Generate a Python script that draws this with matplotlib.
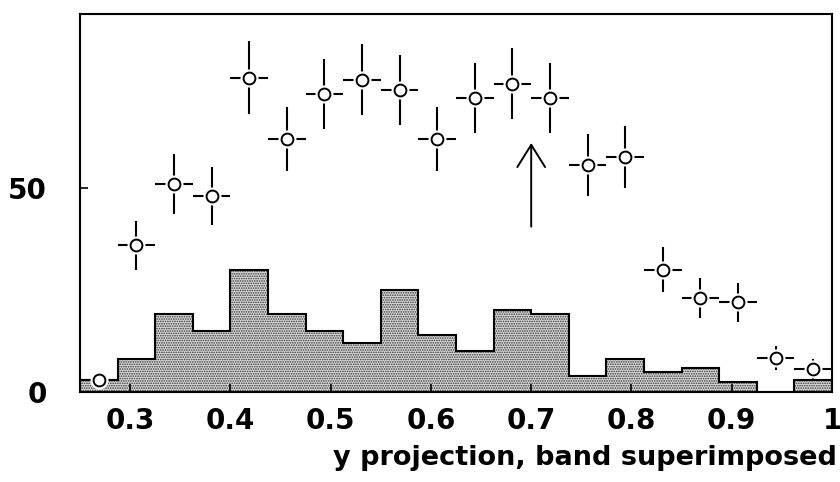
import matplotlib
matplotlib.use("Agg")
import matplotlib.pyplot as plt
import numpy as np

# ---- data ----
bin_edges = np.linspace(0.25, 1.0, 21)
band_counts = [3, 8, 19, 15, 30, 19, 15, 12, 25, 14, 10, 20, 19, 4, 8, 5, 6, 2.5, 0, 3]
point_x = [0.26875, 0.30625, 0.34375, 0.38125, 0.41875, 0.45625, 0.49375, 0.53125,
           0.56875, 0.60625, 0.64375, 0.68125, 0.71875, 0.75625, 0.79375, 0.83125,
           0.86875, 0.90625, 0.94375, 0.98125]
point_y = [3, 36, 51, 48, 77, 62, 73, 76.5, 74, 62, 72, 75.5, 72, 55.5, 57.5, 30,
           23, 22, 8.4, 5.6]
point_yerr = [1.7, 6.0, 7.4, 7.2, 8.9, 7.9, 8.5, 8.7, 8.6, 7.8, 8.5, 8.7, 8.5, 7.6,
              7.6, 5.6, 4.9, 4.8, 2.9, 2.4]
point_xerr = 0.01875
xtick_vals = [0.3, 0.4, 0.5, 0.6, 0.7, 0.8, 0.9, 1.0]
xtick_labels = ["0.3", "0.4", "0.5", "0.6", "0.7", "0.8", "0.9", "1"]
ytick_vals = [0, 50]
ytick_labels = ["0", "50"]
arrow_x = 0.7
arrow_y = (40.5, 61)
xlabel = "y projection, band superimposed"

plt.rcParams['hatch.linewidth'] = 0.8

fig = plt.figure(figsize=(8.4, 4.82), dpi=100)
ax = fig.add_axes([80/840, 1 - 392/482, 752/840, 378/482])

# histogram band
ax.stairs(band_counts, bin_edges, baseline=0, fill=True, facecolor='#d9d9d9',
          edgecolor='#333333', linewidth=0, hatch='.......', zorder=1)
ax.stairs(band_counts, bin_edges, baseline=0, fill=False, color='black',
          linewidth=1.5, zorder=2)

# data points with error bars
ax.errorbar(point_x, point_y, yerr=point_yerr, xerr=point_xerr, fmt='none',
            ecolor='black', elinewidth=1.5, capsize=0, zorder=3)
ax.plot(point_x, point_y, 'o', markersize=13, markerfacecolor='white',
        markeredgecolor='none', zorder=4, clip_on=False)
ax.plot(point_x, point_y, 'o', markersize=8.5, markerfacecolor='white',
        markeredgecolor='black', markeredgewidth=1.4, zorder=5, clip_on=False)

# arrow
ax.annotate('', xy=(arrow_x, arrow_y[1]), xytext=(arrow_x, arrow_y[0]),
            arrowprops=dict(arrowstyle='->,head_length=0.8,head_width=0.5',
                            lw=1.4, color='black', mutation_scale=20,
                            shrinkA=0, shrinkB=0), zorder=6)

ax.set_xlim(0.25, 1.0)
ax.set_ylim(0, 92.6)
ax.set_xticks(xtick_vals)
ax.set_xticklabels(xtick_labels)
ax.set_yticks(ytick_vals)
ax.set_yticklabels(ytick_labels)
ax.tick_params(axis='both', direction='in', length=6, width=1.2,
               labelsize=20)
ax.tick_params(axis='x', pad=11)
ax.tick_params(axis='y', pad=24)
for lab in ax.get_xticklabels() + ax.get_yticklabels():
    lab.set_fontweight('bold')
for sp in ax.spines.values():
    sp.set_linewidth(1.5)

fig.text(837/840, 1 - 458/482, xlabel, ha='right', va='center', fontsize=19.5,
         fontweight='bold')

fig.savefig("out.png", dpi=100)
